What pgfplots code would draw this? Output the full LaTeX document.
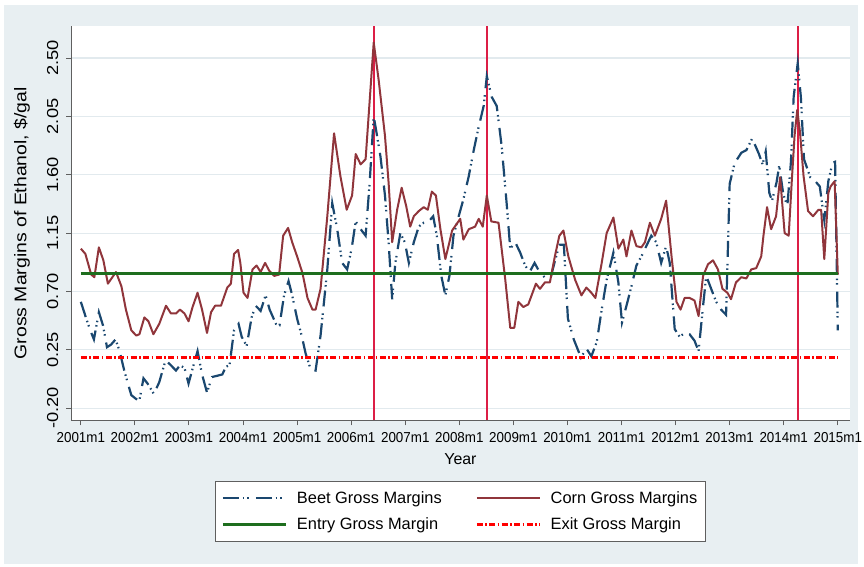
\documentclass[border=0pt]{standalone}
\usepackage{fontspec}
\setmainfont{Liberation Sans}
\newfontfamily\hfont[FakeStretch=0.93]{Liberation Sans}
\newfontfamily\vfont[FakeStretch=1.15]{Liberation Sans}
\usepackage{pgfplots}
\usepackage{pgfplotstable}
\pgfplotsset{compat=1.18}
\definecolor{bgc}{RGB}{232,239,242}
\definecolor{gridc}{RGB}{226,234,238}
\definecolor{beetc}{RGB}{26,71,111}
\definecolor{cornc}{RGB}{144,53,59}
\definecolor{entryc}{RGB}{30,110,30}
\definecolor{xlinec}{RGB}{220,30,70}
\definecolor{axc}{RGB}{95,95,95}

\pgfplotstableread{
m v
0 0.62
1.2 0.49
2.1 0.40
2.9 0.33
4 0.54
4.9 0.44
5.8 0.27
6.7 0.29
7.7 0.33
8.6 0.24
9.7 0.08
11.2 -0.10
12.3 -0.13
13 -0.14
13.9 0.03
14.8 -0.01
16.2 -0.09
17.4 0.00
18.8 0.17
20 0.13
21.1 0.09
22 0.13
23 0.11
23.9 -0.01
25 0.13
25.9 0.24
26.9 0.06
28 -0.08
29.1 0.04
30.3 0.05
31.4 0.06
32.2 0.12
33 0.13
34 0.40
35 0.45
35.7 0.35
36.8 0.28
37.9 0.50
38.8 0.59
39.9 0.55
41 0.67
41.9 0.56
43.3 0.45
44.1 0.44
45.1 0.67
46.1 0.78
46.9 0.67
48 0.49
49 0.36
49.9 0.22
51 0.10
52.1 0.09
53.2 0.36
54.7 0.87
55.8 1.38
56.9 1.18
58 0.92
59.1 0.87
60.1 1.03
61 1.24
62.1 1.18
63.2 1.13
64.1 1.54
65 2.05
65.5 1.95
66.5 1.74
67.5 1.44
68.3 1.08
69.1 0.64
69.8 0.92
70.9 1.15
71.9 1.08
72.8 0.92
73.9 1.08
75 1.20
76.1 1.23
77.2 1.24
78.2 1.28
79 1.13
80 0.82
80.9 0.67
81.8 0.82
82.7 1.13
83.7 1.26
84.9 1.41
86.1 1.59
87.2 1.79
88.3 1.97
89.4 2.13
90.1 2.36
91.2 2.20
92.3 2.13
93.4 1.82
94.5 1.38
95.3 1.03
96.4 1.08
97.5 1.00
98.6 0.90
99.6 0.85
100.7 0.92
101.8 0.85
102.9 0.81
104.3 0.81
105.1 0.92
106.2 1.06
107.2 1.06
108.1 0.49
109.4 0.33
111 0.19
112.2 0.26
113.3 0.20
114.5 0.31
115.6 0.56
116.7 0.79
118.2 1.00
119.3 0.77
120.1 0.46
121.1 0.59
122.2 0.74
123.3 0.90
124.4 0.97
125.5 1.05
126.6 1.13
127.7 1.08
128.8 0.92
129.9 1.05
130.7 0.92
131.8 0.41
132.9 0.35
134 0.38
135.1 0.37
136.2 0.32
137.1 0.24
138.1 0.59
138.8 0.82
139.9 0.72
141 0.62
142.1 0.56
143.2 0.52
144 1.53
145.1 1.69
146.6 1.77
147.7 1.79
149 1.88
150.5 1.76
151.3 1.68
152 1.78
152.8 1.46
153.4 1.40
154.4 1.54
155 1.67
155.9 1.45
156.8 1.36
157.6 1.70
158.2 2.20
159.1 2.46
159.8 2.20
160.5 1.72
161.9 1.58
163 1.55
164 1.51
165 1.25
165.9 1.55
166.8 1.69
167.4 1.70
168 0.40
}\beet

\pgfplotstableread{
m v
0 1.03
1 0.99
2.3 0.83
3 0.81
4 1.04
5 0.94
6 0.76
7 0.81
7.8 0.85
9 0.74
10 0.56
11.2 0.40
12.3 0.36
13 0.37
14.1 0.50
15 0.47
16.1 0.37
17.4 0.45
18.9 0.59
20 0.53
21.1 0.53
22 0.56
23 0.53
23.9 0.47
24.8 0.58
25.9 0.69
26.9 0.56
28 0.38
28.9 0.54
29.8 0.59
31.1 0.59
32.5 0.73
33.3 0.76
34 0.99
34.9 1.02
35.4 0.92
36.1 0.69
37 0.65
38.1 0.87
39 0.90
39.9 0.85
40.9 0.92
41.8 0.86
42.9 0.82
44 0.83
44.9 1.13
46 1.19
46.9 1.08
48 0.97
49.2 0.84
50.3 0.65
51.4 0.56
52.1 0.56
53.2 0.72
54.7 1.28
56.2 1.92
57.6 1.59
59 1.33
60.2 1.44
61 1.76
62.1 1.68
63.2 1.72
64.3 2.27
65 2.62
66.1 2.33
67.5 1.90
68.3 1.54
69.1 1.08
70.2 1.33
71.2 1.50
72.2 1.36
73.1 1.20
73.9 1.28
75 1.32
76.1 1.35
77 1.33
77.9 1.47
78.8 1.44
79.8 1.18
80.9 0.95
81.8 1.08
82.4 1.17
84.2 1.26
84.9 1.10
86.1 1.18
87.5 1.20
88.3 1.26
89.2 1.20
90.1 1.44
91.1 1.24
92.7 1.23
94.2 0.79
95.3 0.42
96.2 0.42
97.1 0.62
98.2 0.58
99.3 0.60
101 0.76
101.9 0.72
103 0.77
104.1 0.77
105.2 0.97
106.2 1.13
107.1 1.17
108.2 0.97
109.7 0.79
111.1 0.67
112.2 0.73
113.3 0.69
114.2 0.65
115.6 0.92
116.7 1.15
118.2 1.27
119.3 1.03
120.4 1.10
121.1 0.97
122.2 1.17
123.3 1.05
124.4 1.04
125.2 1.08
126.3 1.23
127.4 1.13
128.8 1.26
129.9 1.40
131.1 0.97
132.2 0.62
133.1 0.56
134 0.65
135.1 0.65
136.2 0.63
137.1 0.51
138.1 0.82
139.2 0.91
140.3 0.94
141.4 0.87
142.4 0.72
143.5 0.69
144.3 0.64
145.4 0.77
146.6 0.81
147.7 0.80
148.8 0.87
149.9 0.88
151 0.97
151.5 1.13
152.3 1.35
153.2 1.18
154.3 1.28
155.2 1.58
156.2 1.15
157.1 1.13
157.8 1.56
158.4 1.90
159 2.10
159.6 1.93
160.4 1.59
161.4 1.32
162.5 1.28
163.7 1.33
164.3 1.33
165 0.95
165.9 1.46
166.4 1.51
167.3 1.55
168 0.83
}\corn

\begin{document}
\begin{tikzpicture}[x=1bp,y=1bp]
\fill[white] (0,0) rectangle (864,568);
\fill[bgc] (4,2) rectangle (861,563);
\begin{axis}[
  at={(71.6bp,146.3bp)}, anchor=south west,
  width=780.4bp, height=395.7bp, scale only axis,
  xmin=-2.1, xmax=170.6, ymin=-0.295, ymax=2.748,
  axis background/.style={fill=white},
  axis x line*=bottom, axis y line*=left,
  axis line style={-, axc, line width=1.1bp},
  tick align=outside, major tick length=5bp,
  tick style={axc, line width=1bp},
  xtick={0,12,24,36,48,60,72,84,96,108,120,132,144,156,168},
  xticklabels={2001m1,2002m1,2003m1,2004m1,2005m1,2006m1,2007m1,2008m1,2009m1,2010m1,2011m1,2012m1,2013m1,2014m1,2015m1},
  xticklabel style={font=\hfont\fontsize{14.5}{17}\selectfont, inner sep=2bp, yshift=-5bp},
  ytick={-0.2,0.25,0.7,1.15,1.6,2.05,2.5},
  yticklabels={-0.20,0.25,0.70,1.15,1.60,2.05,2.50},
  yticklabel style={font=\vfont\fontsize{16}{18}\selectfont, rotate=90, anchor=south, inner sep=0pt, inner ysep=8bp},
  ymajorgrids, grid style={gridc, line width=1.2bp},
  xlabel={Year},
  xlabel style={font=\fontsize{16}{19}\selectfont, at={(axis description cs:0.5,-0.098)}, anchor=center},
  ylabel={Gross Margins of Ethanol, \$/gal},
  ylabel style={font=\vfont\fontsize{17}{20}\selectfont, at={(axis description cs:-0.0636,0.5)}, anchor=center, rotate=0},
  legend style={at={(0.5,-0.154)}, anchor=north, draw=axc, line width=0.8bp, fill=white,
    font=\fontsize{16.5}{19}\selectfont, inner xsep=6bp, inner ysep=8bp,
    /tikz/every even column/.append style={column sep=32bp},
    /tikz/every odd column/.append style={column sep=8bp},
    row sep=9bp},
  legend columns=2,
  legend cell align=left,
  legend image code/.code={\draw[#1] (0bp,0bp) -- (63bp,0bp);},
  clip=true,
  unbounded coords=jump,
]
\addplot[color=xlinec, line width=1.5bp, forget plot] coordinates {(65.05,-0.295) (65.05,2.748) (65.05,nan) (90.1,-0.295) (90.1,2.748) (90.1,nan) (159.2,-0.295) (159.2,2.748)};
\addplot[color=beetc, line width=2.2bp, no markers, dash pattern=on 16bp off 4bp on 1.5bp off 3bp on 1.5bp off 7bp] table[x=m,y=v] {\beet};
\addlegendentry{Beet Gross Margins}
\addplot[color=cornc, line width=2bp, no markers, line join=round] table[x=m,y=v] {\corn};
\addlegendentry{Corn Gross Margins\hspace{22bp}}
\addplot[color=entryc, line width=2.6bp, no markers] coordinates {(0,0.84) (168,0.84)};
\addlegendentry{Entry Gross Margin}
\addplot[color=red, line width=2.2bp, no markers, dash pattern=on 6bp off 2.5bp on 1.5bp off 2.5bp] coordinates {(0,0.19) (168,0.19)};
\addlegendentry{Exit Gross Margin}
\end{axis}
\end{tikzpicture}
\end{document}
